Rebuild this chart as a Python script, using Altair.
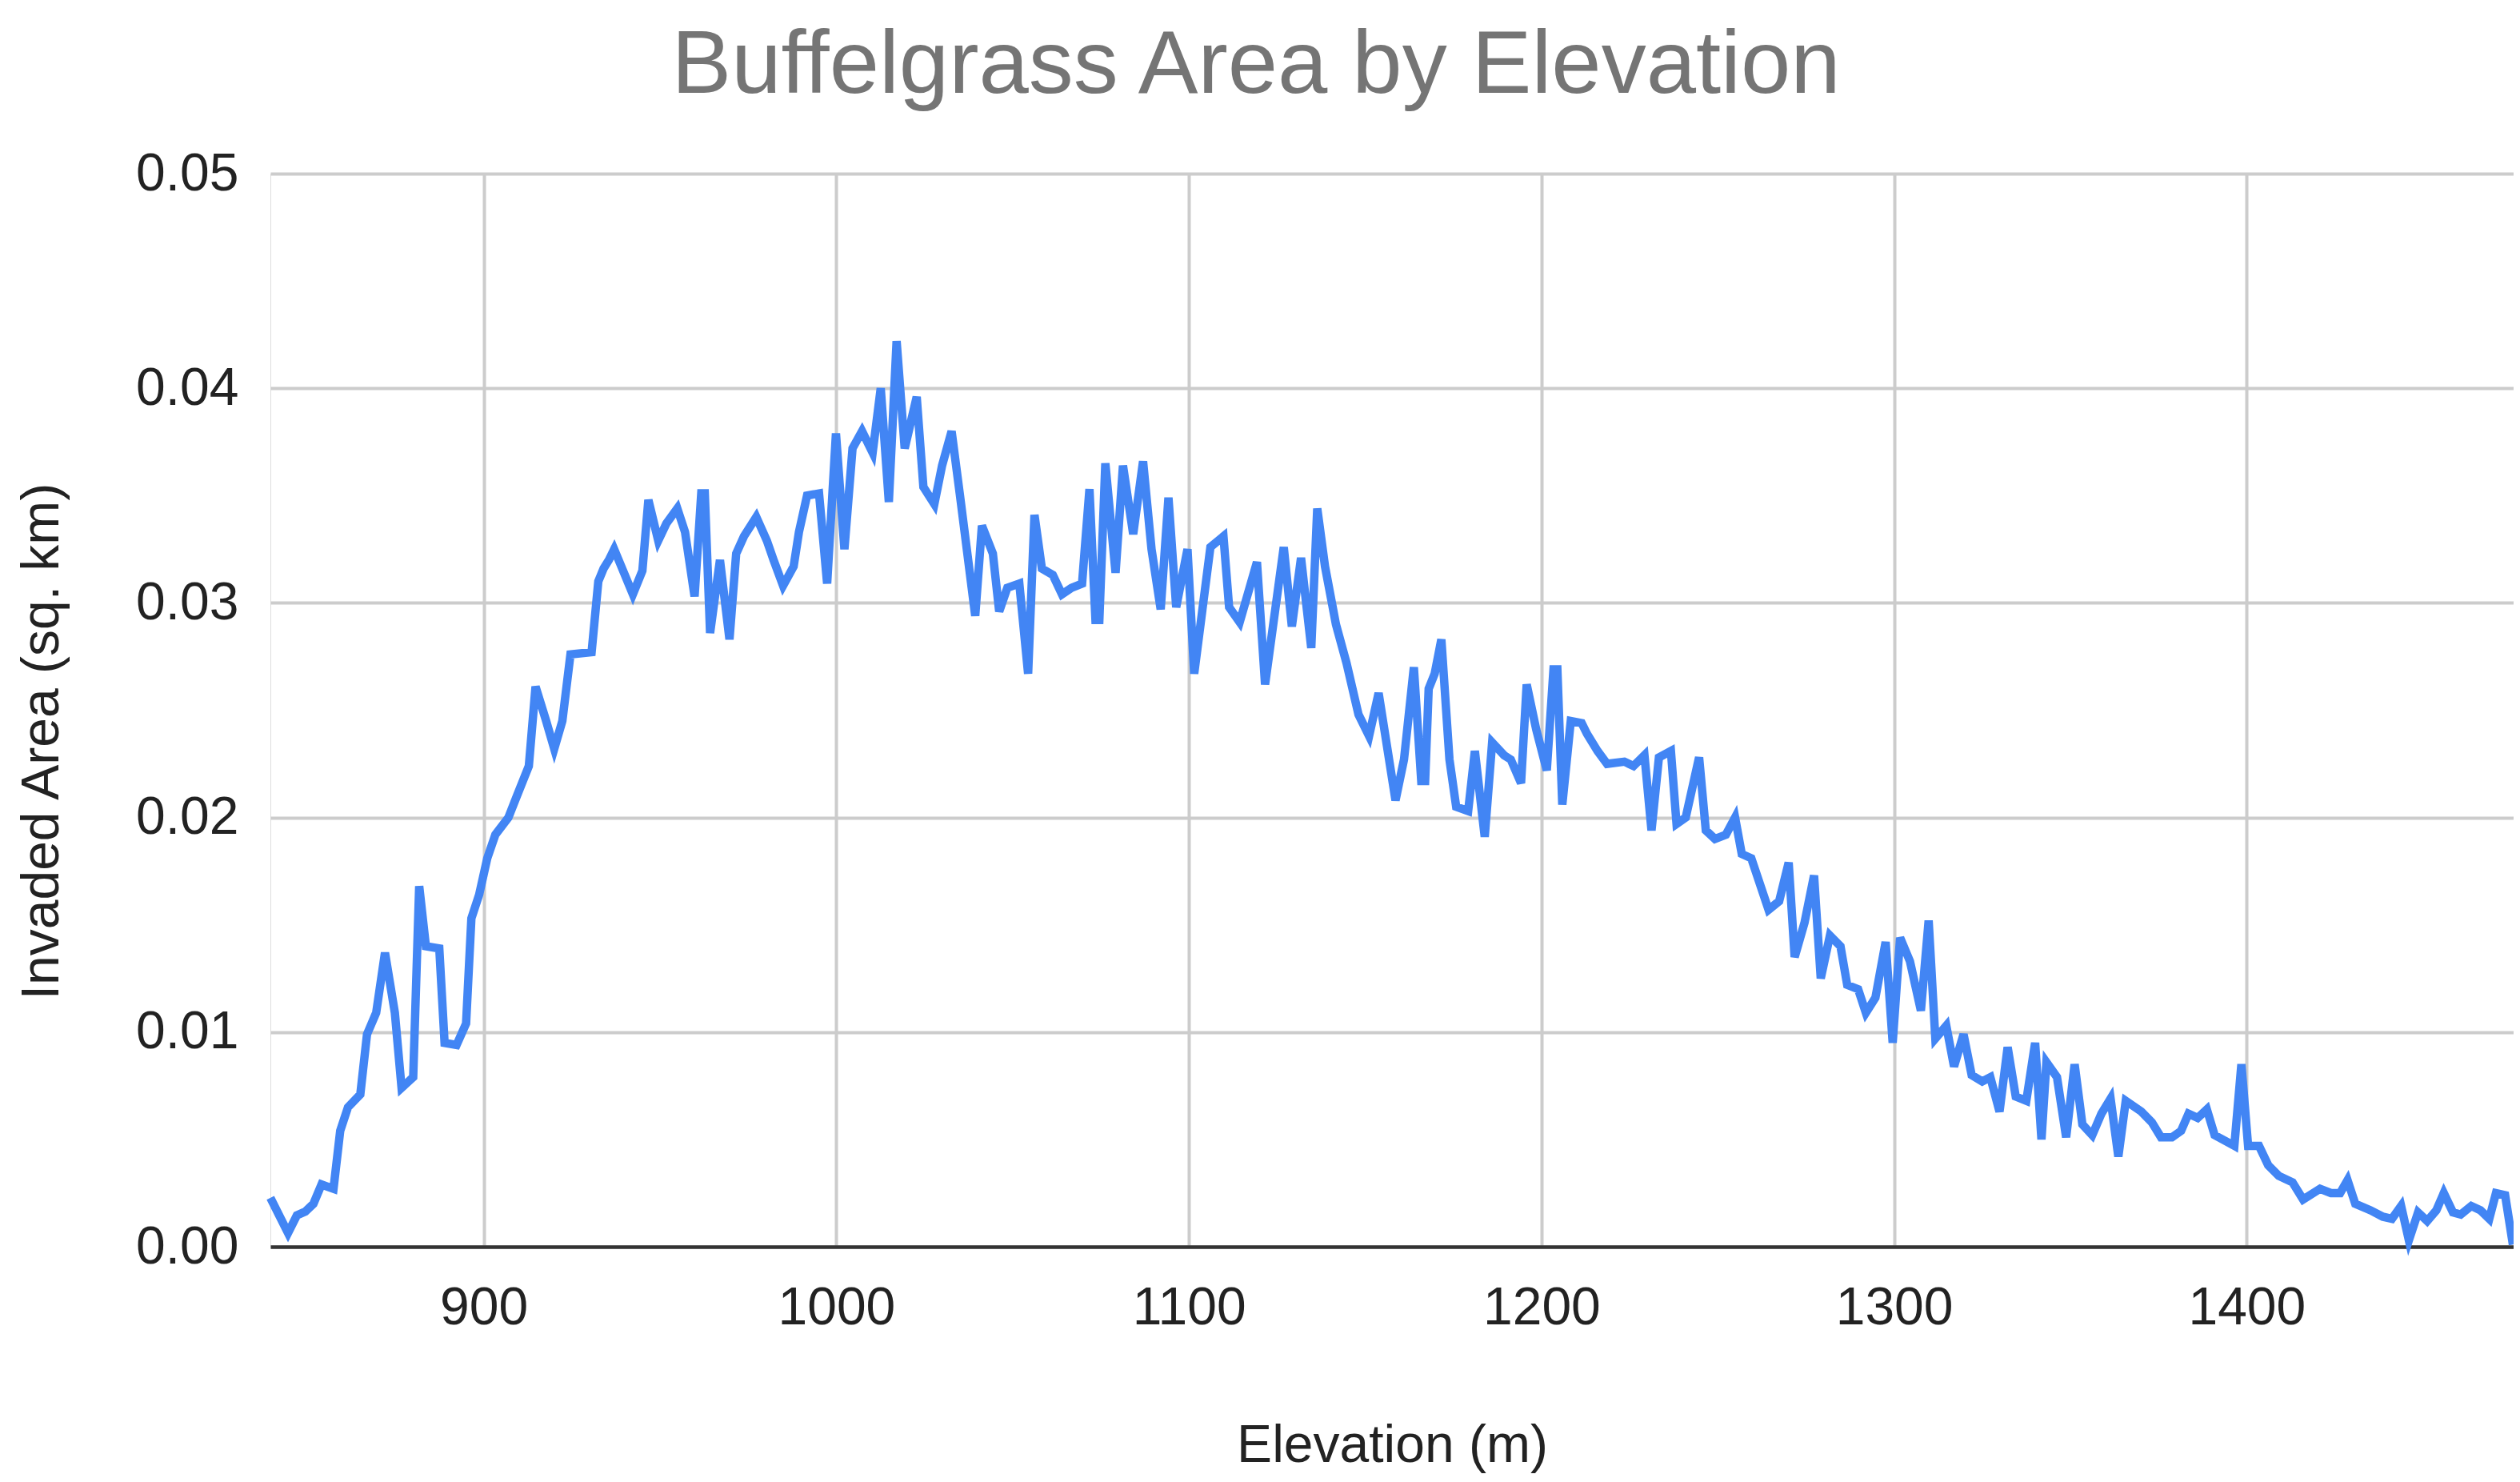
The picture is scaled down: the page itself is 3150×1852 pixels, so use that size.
import altair as alt
import pandas as pd

# Elevation (m) of each vertex
elevation = [
    839.5, 844.5, 847.0, 849.4, 851.7, 854.0, 857.4, 859.3, 861.5, 865.0,
    866.9, 869.5, 872.0, 874.8, 876.7, 880.0, 881.7, 883.6, 887.4, 888.9,
    892.3, 895.0, 896.5, 898.7, 901.0, 903.3, 907.0, 909.4, 912.8, 914.7,
    917.7, 920.0, 922.3, 924.6, 930.6, 932.5, 934.0, 935.5, 937.0, 942.3,
    945.0, 946.7, 949.5, 951.8, 954.9, 957.1, 959.8, 961.7, 962.7, 964.2,
    967.0, 969.7, 971.6, 973.8, 977.3, 980.3, 982.2, 984.9, 987.9, 989.4,
    991.7, 995.1, 997.4, 999.9, 1002.3, 1004.6, 1007.3, 1010.3, 1012.6, 1014.9,
    1017.1, 1019.4, 1022.8, 1024.7, 1027.8, 1030.0, 1032.7, 1035.0, 1039.4, 1041.3,
    1044.4, 1046.2, 1048.5, 1051.9, 1054.4, 1056.2, 1058.3, 1061.4, 1064.0, 1066.7,
    1069.7, 1071.8, 1073.5, 1074.6, 1076.3, 1079.2, 1081.3, 1084.2, 1087.0, 1089.4,
    1092.0, 1094.2, 1096.4, 1099.6, 1101.5, 1106.1, 1109.8, 1111.4, 1114.4, 1119.3,
    1121.6, 1126.9, 1129.2, 1131.8, 1134.7, 1136.4, 1138.6, 1141.7, 1144.7, 1148.1,
    1151.1, 1153.8, 1158.6, 1161.0, 1163.8, 1165.9, 1167.0, 1168.0, 1169.7, 1171.6,
    1173.9, 1175.8, 1179.2, 1181.1, 1183.9, 1186.0, 1189.4, 1191.3, 1194.2, 1195.8,
    1198.5, 1201.5, 1203.4, 1204.5, 1205.9, 1208.3, 1211.4, 1212.9, 1215.9, 1218.6,
    1223.5, 1226.1, 1229.2, 1231.2, 1233.3, 1236.7, 1238.3, 1240.9, 1244.7, 1246.6,
    1249.2, 1252.3, 1254.9, 1256.8, 1259.5, 1264.4, 1267.4, 1270.1, 1271.8, 1274.6,
    1277.3, 1279.2, 1281.8, 1284.8, 1286.7, 1289.8, 1292.0, 1294.7, 1297.6, 1299.6,
    1301.7, 1304.5, 1307.6, 1309.8, 1311.7, 1314.8, 1317.0, 1319.7, 1322.0, 1325.0,
    1327.3, 1329.9, 1332.2, 1334.5, 1337.5, 1340.0, 1341.8, 1343.2, 1346.2, 1348.8,
    1351.2, 1353.4, 1356.2, 1358.8, 1361.4, 1363.6, 1365.7, 1370.1, 1373.1, 1375.7,
    1378.8, 1381.4, 1383.5, 1386.1, 1388.7, 1390.9, 1396.5, 1398.5, 1400.4, 1403.5,
    1406.1, 1409.1, 1413.0, 1416.0, 1420.8, 1423.9, 1426.5, 1428.6, 1430.8, 1435.1,
    1438.6, 1441.2, 1443.8, 1446.0, 1448.6, 1451.2, 1453.8, 1455.9, 1458.5, 1460.7,
    1463.7, 1466.3, 1468.8, 1470.7, 1473.3, 1475.5,
]

# Invaded area (sq. km) at each vertex
area = [
    0.00228, 0.00064, 0.00146, 0.00164, 0.0020, 0.0029, 0.0027, 0.0054, 0.0065, 0.0071,
    0.0099, 0.0109, 0.0137, 0.0109, 0.0074, 0.0079, 0.0168, 0.0140, 0.0139, 0.0095,
    0.0094, 0.0104, 0.0153, 0.0164, 0.0181, 0.0192, 0.0200, 0.0210, 0.0224, 0.0261,
    0.0245, 0.0232, 0.0245, 0.0276, 0.0277, 0.0310, 0.0316, 0.0320, 0.0325, 0.0304,
    0.0315, 0.0348, 0.0329, 0.0337, 0.0344, 0.0333, 0.0303, 0.0351, 0.0351, 0.0286,
    0.0320, 0.0283, 0.0323, 0.0331, 0.0340, 0.0329, 0.0320, 0.0308, 0.0317, 0.0333,
    0.0350, 0.0351, 0.0309, 0.0379, 0.0325, 0.0372, 0.0380, 0.0370, 0.0400, 0.0347,
    0.0422, 0.0372, 0.0396, 0.0354, 0.0346, 0.0364, 0.0380, 0.0351, 0.0294, 0.0336,
    0.0323, 0.0296, 0.0307, 0.0309, 0.0267, 0.0341, 0.0316, 0.0313, 0.0304, 0.0307,
    0.0309, 0.0353, 0.0292, 0.0292, 0.0365, 0.0314, 0.0364, 0.0332, 0.0366, 0.0325,
    0.0297, 0.0349, 0.0298, 0.0325, 0.0267, 0.0326, 0.0331, 0.0298, 0.0291, 0.0319,
    0.0262, 0.0326, 0.0289, 0.0321, 0.0279, 0.0344, 0.0317, 0.0290, 0.0272, 0.0248,
    0.0238, 0.0258, 0.0208, 0.0227, 0.0270, 0.0217, 0.0217, 0.0260, 0.0267, 0.0283,
    0.0227, 0.0205, 0.0203, 0.0231, 0.0191, 0.0235, 0.0229, 0.0227, 0.0216, 0.0262,
    0.0241, 0.0222, 0.0269, 0.0269, 0.0206, 0.0245, 0.0244, 0.0239, 0.0231, 0.0225,
    0.0226, 0.0224, 0.0229, 0.0194, 0.0228, 0.0231, 0.0197, 0.0200, 0.0228, 0.0194,
    0.0190, 0.0192, 0.0200, 0.0183, 0.0181, 0.0157, 0.0161, 0.0179, 0.0135, 0.0151,
    0.0173, 0.0125, 0.0145, 0.0140, 0.0122, 0.0120, 0.0109, 0.0116, 0.0142, 0.0095,
    0.0144, 0.0133, 0.0110, 0.0152, 0.0097, 0.0103, 0.0084, 0.0099, 0.0080, 0.0077,
    0.0079, 0.0063, 0.0093, 0.0070, 0.0068, 0.0095, 0.0050, 0.0086, 0.0079, 0.0051,
    0.0085, 0.0057, 0.0052, 0.0062, 0.0069, 0.0042, 0.0068, 0.0063, 0.0058, 0.0051,
    0.0051, 0.0054, 0.0062, 0.0060, 0.0064, 0.0052, 0.0047, 0.0085, 0.0047, 0.0047,
    0.0038, 0.0033, 0.0030, 0.0022, 0.0027, 0.0025, 0.0025, 0.0031, 0.0020, 0.0017,
    0.0014, 0.0013, 0.0019, 0.0003, 0.0016, 0.0012, 0.0017, 0.0025, 0.0016, 0.0015,
    0.0019, 0.0017, 0.0013, 0.0025, 0.0024, 0.0001,
]

x_ticks = [900, 1000, 1100, 1200, 1300, 1400]
y_ticks = [0.0, 0.01, 0.02, 0.03, 0.04, 0.05]

df = pd.DataFrame({"elevation": elevation, "area": area})

FONT = "Liberation Sans"

chart = (
    alt.Chart(df)
    .mark_line(color="#4285F4", strokeWidth=10.5, strokeJoin="miter")
    .encode(
        x=alt.X(
            "elevation:Q",
            scale=alt.Scale(domain=[839.5, 1475.7], nice=False, zero=False),
            axis=alt.Axis(
                values=x_ticks,
                format="d",
                title="Elevation (m)",
                grid=True,
                gridColor="#cccccc",
                gridWidth=4,
                ticks=False,
                domain=True,
                domainColor="#333333",
                domainWidth=4.5,
                labelFont=FONT,
                labelFontSize=66,
                labelColor="#222222",
                labelPadding=44,
                titleFont=FONT,
                titleFontSize=66,
                titleFontWeight="normal",
                titleColor="#222222",
                titleBaseline="alphabetic",
                titleY=268,
            ),
        ),
        y=alt.Y(
            "area:Q",
            scale=alt.Scale(domain=[0, 0.05], nice=False),
            axis=alt.Axis(
                values=y_ticks,
                format=".2f",
                title="Invaded Area (sq. km)",
                grid=True,
                gridColor="#cccccc",
                gridWidth=4,
                ticks=False,
                domain=False,
                labelFont=FONT,
                labelFontSize=66,
                labelColor="#222222",
                labelPadding=40,
                titleFont=FONT,
                titleFontSize=66,
                titleFontWeight="normal",
                titleColor="#222222",
                titleAngle=270,
                titleBaseline="alphabetic",
                titleAlign="center",
                titleX=-266,
                titleY=709,
            ),
        ),
    )
    .properties(
        width=2804,
        height=1341,
        padding={"left": 330, "top": 209, "right": 0, "bottom": 284},
        autosize=alt.AutoSizeParams(type="none"),
        title=alt.TitleParams(
            text="Buffelgrass Area by Elevation",
            font=FONT,
            fontSize=112,
            fontWeight="normal",
            color="#757575",
            anchor="middle",
            frame="group",
            offset=44,
            dx=-170,
        ),
    )
    .configure_view(stroke=None)
    .configure(background="white")
)

chart.save("out.html", embed_options={"renderer": "svg", "actions": False})
